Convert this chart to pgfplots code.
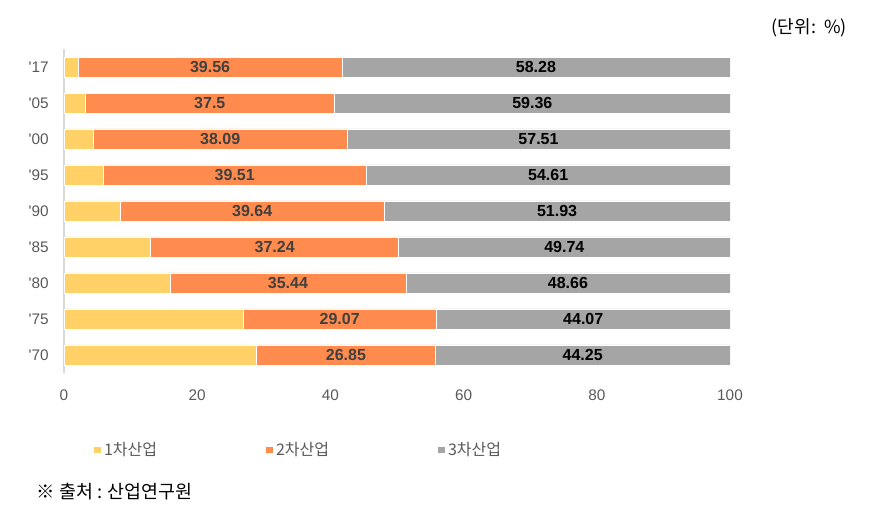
\documentclass[border=0pt]{standalone}
\usepackage{fontspec}
\setmainfont{Liberation Sans}[Ligatures=TeXOff]
\newfontfamily\kr{Noto Sans CJK KR}
\usepackage{pgfplots}
\usepackage{pgfplotstable}
\pgfplotsset{compat=1.18}

\definecolor{c1}{HTML}{FFD166}
\definecolor{c2}{HTML}{FF8B4E}
\definecolor{c3}{HTML}{A5A5A5}
\definecolor{tickgray}{HTML}{595959}
\definecolor{labgray}{HTML}{404040}
\definecolor{axgray}{HTML}{D9D9D9}

% year, 1st, 2nd, 3rd industry shares (%)
\pgfplotstableread{
y  p1     p2     p3
0  28.90  26.85  44.25
1  26.86  29.07  44.07
2  15.90  35.44  48.66
3  13.02  37.24  49.74
4  8.43   39.64  51.93
5  5.88   39.51  54.61
6  4.40   38.09  57.51
7  3.14   37.5   59.36
8  2.16   39.56  58.28
}\shares

\begin{document}
\begin{tikzpicture}
\path (0pt,0pt) rectangle (658.5pt,387pt);
\begin{axis}[
    at={(48pt,107.25pt)}, anchor=south west,
    scale only axis,
    width=499.5pt, height=243pt,
    xbar stacked,
    bar width=15pt,
    xmin=0, xmax=100,
    ymin=-0.5, ymax=8.5,
    xtick={0,20,...,100},
    ytick={0,...,8},
    yticklabels={'70,'75,'80,'85,'90,'95,'00,'05,'17},
    axis x line*=bottom,
    axis y line*=left,
    x axis line style={draw=none},
    y axis line style={draw=axgray, line width=0.8pt},
    major tick length=0pt,
    tick label style={font=\fontsize{11.5}{13}\selectfont, text=tickgray},
    xticklabel style={yshift=-9pt},
    yticklabel style={xshift=-8pt},
    /pgf/number format/assume math mode=true,
    legend columns=3,
    legend style={at={(0.352,-0.237)}, anchor=center, draw=none, fill=none,
        font=\kr\fontsize{12}{14}\selectfont, text=tickgray,
        /tikz/every even column/.append style={column sep=79pt}},
    legend image code/.code={\fill[#1] (0pt,-2.9pt) rectangle (5.8pt,2.9pt);},
    visualization depends on={rawx \as \rawx},
    every node near coord/.append style={anchor=center,
        font=\bfseries\fontsize{12}{14}\selectfont},
]
\addplot[fill=c1, draw=white, line width=0.4pt] table[x=p1, y=y] {\shares};
\addlegendentry{1차산업}
\addplot[fill=c2, draw=white, line width=0.4pt,
    nodes near coords={\pgfmathprintnumber{\rawx}},
    every node near coord/.append style={text=labgray}] table[x=p2, y=y] {\shares};
\addlegendentry{2차산업}
\addplot[fill=c3, draw=white, line width=0.4pt,
    nodes near coords={\pgfmathprintnumber{\rawx}},
    every node near coord/.append style={text=black}] table[x=p3, y=y] {\shares};
\addlegendentry{3차산업}
\end{axis}
\node[font=\kr\fontsize{13.5}{15}\selectfont] at (607pt,366pt) {(단위:\ \ \%)};
\node[anchor=west, font=\kr\fontsize{13.8}{16}\selectfont] at (24pt,18pt) {※\ 출처 : 산업연구원};
\end{tikzpicture}
\end{document}
